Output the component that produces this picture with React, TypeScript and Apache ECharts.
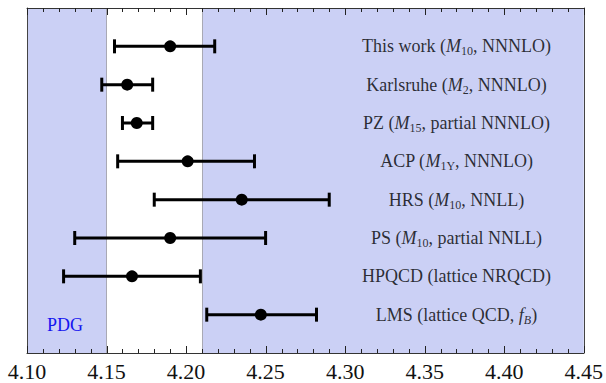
import React, { useEffect, useRef } from "react";
import * as echarts from "echarts";

const labels = [
  "This work ({i|M}{sub|10}, NNNLO)",
  "Karlsruhe ({i|M}{sub|2}, NNNLO)",
  "PZ ({i|M}{sub|15}, partial NNNLO)",
  "ACP ({i|M}{sub|1Υ}, NNNLO)",
  "HRS ({i|M}{sub|10}, NNLL)",
  "PS ({i|M}{sub|10}, partial NNLL)",
  "HPQCD (lattice NRQCD)",
  "LMS (lattice QCD, {i|f}{subi|B})",
];
const centers = [4.19, 4.163, 4.169, 4.201, 4.235, 4.19, 4.166, 4.247];
const lows = [4.155, 4.147, 4.16, 4.157, 4.18, 4.13, 4.123, 4.213];
const highs = [4.218, 4.179, 4.179, 4.243, 4.29, 4.25, 4.209, 4.282];
const pdgRange = [4.15, 4.21];
const labelX = 4.37;
const xTicks = { min: 4.1, max: 4.45, interval: 0.05 };
const majorTicks = [4.1, 4.15, 4.2, 4.25, 4.3, 4.35, 4.4, 4.45];
const minorPerMajor = 5;
const yRange = { min: 0, max: 9 };

const SERIF = "'Liberation Serif', 'Times New Roman', serif";

export default function App() {
  const ref = useRef<HTMLDivElement>(null);
  useEffect(() => {
    if (!ref.current) return;
    const chart = echarts.init(ref.current, undefined, { renderer: "svg" });
    const rows = centers.map((c, i) => [c, lows[i], highs[i], i + 1]);
    const tickData: number[][] = [];
    majorTicks.forEach((t, i) => {
      tickData.push([t, 1]);
      if (i < majorTicks.length - 1) {
        const step = (majorTicks[i + 1] - t) / minorPerMajor;
        for (let k = 1; k < minorPerMajor; k++) tickData.push([t + step * k, 0]);
      }
    });
    const axisCommon = {
      type: "value" as const,
      z: 10,
      min: xTicks.min,
      max: xTicks.max,
      interval: xTicks.interval,
      splitLine: { show: false },
      axisLine: { show: true, onZero: false, lineStyle: { color: "#333", width: 1 } },
      axisTick: { show: false },
      minorTick: { show: false },
    };
    const yCommon = {
      type: "value" as const,
      z: 10,
      min: yRange.min,
      max: yRange.max,
      inverse: true,
      axisLine: { show: true, onZero: false, lineStyle: { color: "#444", width: 1 } },
      axisTick: { show: false },
      axisLabel: { show: false },
      splitLine: { show: false },
    };
    chart.setOption({
      animation: false,
      grid: { left: 27, right: 22, top: 8, bottom: 30, show: false },
      xAxis: [
        {
          ...axisCommon,
          position: "bottom",
          axisLabel: {
            show: true,
            margin: 7,
            fontFamily: SERIF,
            fontSize: 22,
            color: "#111",
            formatter: (v: number) => v.toFixed(2),
          },
        },
        {
          ...axisCommon,
          position: "top",
          axisLabel: { show: false },
        },
      ],
      yAxis: [
        { ...yCommon, position: "left" },
        { ...yCommon, position: "right" },
      ],
      graphic: [
        {
          type: "text",
          left: 47,
          top: 316,
          z: 10,
          style: { text: "PDG", fill: "#1515f0", font: `18px ${SERIF}` },
        },
      ],
      series: [
        {
          type: "custom",
          z: 1,
          data: [],
          renderItem: () => ({ type: "group", children: [] }),
          markArea: {
            silent: true,
            itemStyle: { color: "#cbd0f5", borderWidth: 0 },
            data: [
              [{ xAxis: xTicks.min }, { xAxis: pdgRange[0] }],
              [{ xAxis: pdgRange[1] }, { xAxis: xTicks.max }],
            ],
          },
          markLine: {
            silent: true,
            symbol: "none",
            label: { show: false },
            lineStyle: { color: "#a9a9b4", width: 1, type: "solid" },
            data: pdgRange.map((v) => ({ xAxis: v })),
          },
        },
        {
          type: "custom",
          z: 20,
          silent: true,
          clip: false,
          data: tickData,
          encode: { x: 0 },
          renderItem: (params: any, api: any) => {
            const v = api.value(0);
            const major = api.value(1) === 1;
            const len = major ? 7 : 4;
            const top = api.coord([v, yRange.min]);
            const bot = api.coord([v, yRange.max]);
            const x = Math.round(top[0]) + 0.5;
            const st = { stroke: "#222", lineWidth: 1 };
            return {
              type: "group",
              children: [
                { type: "line", z2: 50, shape: { x1: x, y1: top[1], x2: x, y2: top[1] + len }, style: st },
                { type: "line", z2: 50, shape: { x1: x, y1: bot[1] - len, x2: x, y2: bot[1] }, style: st },
              ],
            };
          },
        },
        {
          type: "custom",
          z: 5,
          data: rows,
          encode: { x: [0, 1, 2], y: 3 },
          renderItem: (params: any, api: any) => {
            const c = api.coord([api.value(0), api.value(3)]);
            const l = api.coord([api.value(1), api.value(3)]);
            const h = api.coord([api.value(2), api.value(3)]);
            const st = { stroke: "#000", lineWidth: 3 };
            return {
              type: "group",
              children: [
                { type: "line", shape: { x1: l[0], y1: l[1], x2: h[0], y2: h[1] }, style: st },
                { type: "line", shape: { x1: l[0], y1: l[1] - 7, x2: l[0], y2: l[1] + 7 }, style: st },
                { type: "line", shape: { x1: h[0], y1: h[1] - 7, x2: h[0], y2: h[1] + 7 }, style: st },
                { type: "circle", shape: { cx: c[0], cy: c[1], r: 6 }, style: { fill: "#000" } },
              ],
            };
          },
        },
        {
          type: "scatter",
          z: 6,
          symbolSize: 0,
          silent: true,
          data: labels.map((_, i) => [labelX, i + 1]),
          label: {
            show: true,
            position: "inside",
            color: "#000",
            fontFamily: SERIF,
            fontSize: 18,
            formatter: (p: any) => labels[p.dataIndex],
            rich: {
              i: { fontFamily: SERIF, fontSize: 18, fontStyle: "italic", color: "#000" },
              sub: {
                fontFamily: SERIF,
                fontSize: 12,
                color: "#000",
                verticalAlign: "bottom",
                lineHeight: 22,
              },
              subi: {
                fontFamily: SERIF,
                fontSize: 12,
                fontStyle: "italic",
                color: "#000",
                verticalAlign: "bottom",
                lineHeight: 22,
              },
            },
          },
        },
      ],
    });
    return () => chart.dispose();
  }, []);
  return (
    <div
      ref={ref}
      style={{ position: "absolute", left: 0, top: 0, width: 606, height: 383 }}
    />
  );
}
